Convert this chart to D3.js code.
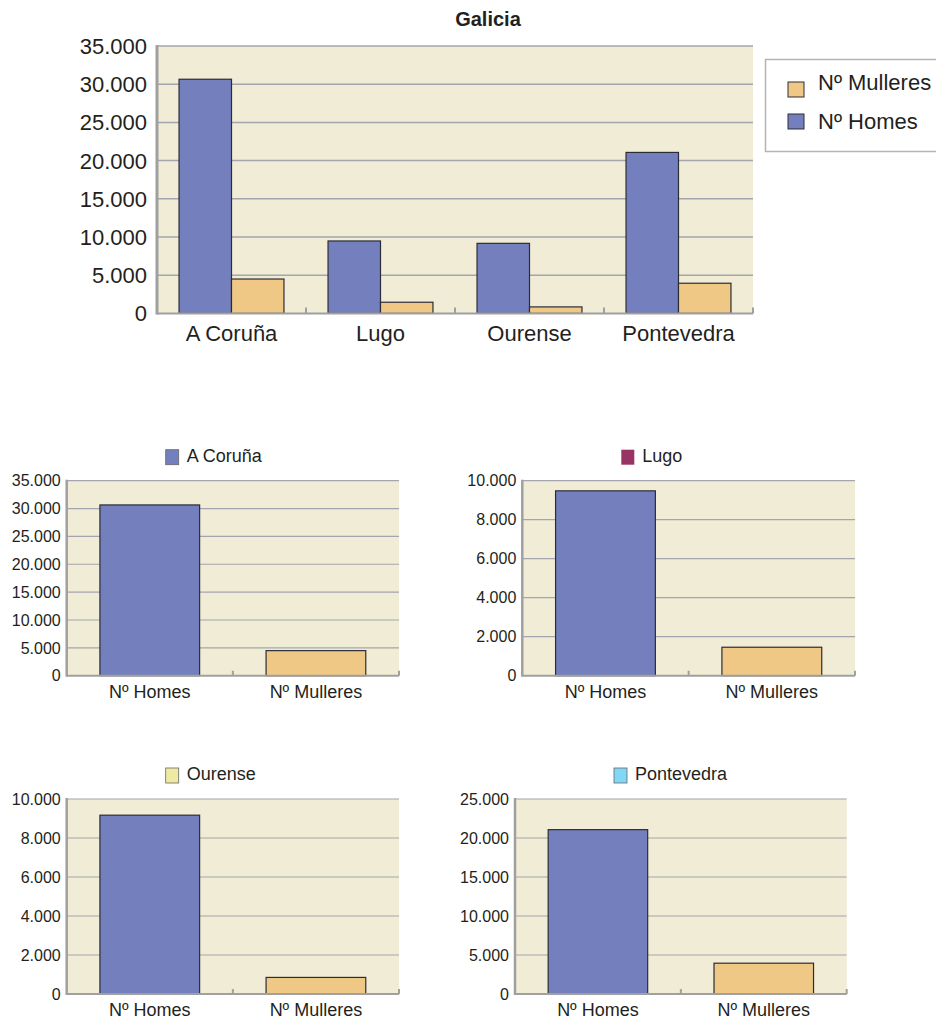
<!DOCTYPE html>
<html>
<head>
<meta charset="utf-8">
<script src="https://cdn.jsdelivr.net/npm/d3@7"></script>
<style>
  body { margin: 0; background: #fff; }
  text { font-family: "Liberation Sans", Arial, sans-serif; fill: #231f20; }
</style>
</head>
<body>
<div id="chart"></div>
<script>
// values
var provinces = ["A Coruña", "Lugo", "Ourense", "Pontevedra"];
var homes = [30650, 9480, 9170, 21070];
var mulleres = [4500, 1460, 850, 3950];
var series = ["Nº Homes", "Nº Mulleres"];
var legendOrder = ["Nº Mulleres", "Nº Homes"];
var seriesColor = {"Nº Homes": "#7480bd", "Nº Mulleres": "#efc886"};
var provinceColor = ["#7480bd", "#993366", "#eeeaa4", "#82d7f7"];
var smallMax = [35000, 10000, 10000, 25000];
var smallStep = [5000, 2000, 2000, 5000];

var bg = "#f1ecd5", grid = "#a4a5ae", axisCol = "#a0a0a0", barStroke = "#2c2c38";
var fmt = d3.formatLocale({decimal: ",", thousands: ".", grouping: [3], currency: ["", "€"]}).format(",");

var svg = d3.select("#chart").append("svg")
    .attr("width", 936)
    .attr("height", 1019);

function galicia_func () {
    var box = {left: 157, top: 46, right: 753, bottom: 313.4};
    var y = d3.scaleLinear().domain([0, 35000]).range([box.bottom, box.top]);
    var x = d3.scaleBand().domain(provinces).range([box.left, box.right]);
    var x1 = d3.scaleBand().domain(series).range([0, x.bandwidth()]).paddingInner(0).paddingOuter(0.42);
    var ticks = d3.range(0, 35001, 5000);

    var g = svg.append("g");
    g.append("rect")
        .attr("x", box.left).attr("y", box.top)
        .attr("width", box.right - box.left).attr("height", box.bottom - box.top)
        .attr("fill", bg);

    g.append("g").selectAll("line")
        .data(ticks.slice(1))
        .enter().append("line")
        .attr("x1", box.left).attr("x2", box.right)
        .attr("y1", function(d) { return y(d); }).attr("y2", function(d) { return y(d); })
        .attr("stroke", grid).attr("stroke-width", 1.5);

    g.append("g").selectAll("text")
        .data(ticks)
        .enter().append("text")
        .attr("x", box.left - 10)
        .attr("y", function(d) { return y(d); })
        .attr("dy", "0.36em")
        .attr("text-anchor", "end")
        .style("font-size", "22px")
        .text(function(d) { return fmt(d); });

    var rows = provinces.map(function(p, i) {
        return {province: p, values: [{key: "Nº Homes", value: homes[i]}, {key: "Nº Mulleres", value: mulleres[i]}]};
    });

    g.append("g").selectAll("g")
        .data(rows)
        .enter().append("g")
        .attr("transform", function(d) { return "translate(" + x(d.province) + ",0)"; })
      .selectAll("rect")
        .data(function(d) { return d.values; })
        .enter().append("rect")
        .attr("x", function(d) { return x1(d.key); })
        .attr("y", function(d) { return y(d.value); })
        .attr("width", x1.bandwidth())
        .attr("height", function(d) { return y(0) - y(d.value); })
        .attr("fill", function(d) { return seriesColor[d.key]; })
        .attr("stroke", barStroke).attr("stroke-width", 1.2);

    // axis lines
    g.append("line").attr("x1", box.left).attr("x2", box.left)
        .attr("y1", box.top - 1).attr("y2", box.bottom + 1)
        .attr("stroke", axisCol).attr("stroke-width", 3);
    g.append("line").attr("x1", box.left).attr("x2", box.right)
        .attr("y1", box.bottom).attr("y2", box.bottom)
        .attr("stroke", axisCol).attr("stroke-width", 2);
    g.append("g").selectAll("line")
        .data(provinces.slice(1).concat([null]))
        .enter().append("line")
        .attr("x1", function(d) { return d ? x(d) : box.right; })
        .attr("x2", function(d) { return d ? x(d) : box.right; })
        .attr("y1", box.bottom).attr("y2", box.bottom - 6)
        .attr("stroke", axisCol).attr("stroke-width", 2);

    g.append("g").selectAll("text")
        .data(provinces)
        .enter().append("text")
        .attr("x", function(d) { return x(d) + x.bandwidth() / 2; })
        .attr("y", box.bottom + 28)
        .attr("text-anchor", "middle")
        .style("font-size", "22px")
        .text(function(d) { return d; });

    svg.append("text")
        .attr("x", 488).attr("y", 26)
        .attr("text-anchor", "middle")
        .style("font-size", "20px").style("font-weight", "bold")
        .text("Galicia");

    // legend
    var lg = svg.append("g");
    lg.append("rect")
        .attr("x", 765.5).attr("y", 59.5)
        .attr("width", 190).attr("height", 92)
        .attr("fill", "#fff").attr("stroke", "#b4b4b4").attr("stroke-width", 1.5);
    var item = lg.selectAll("g.item")
        .data(legendOrder)
        .enter().append("g")
        .attr("class", "item")
        .attr("transform", function(d, i) { return "translate(788," + (82 + i * 32) + ")"; });
    item.append("rect")
        .attr("y", function(d, i) { return i ? 0 : 0; })
        .attr("width", 16).attr("height", 15)
        .attr("fill", function(d) { return seriesColor[d]; })
        .attr("stroke", barStroke).attr("stroke-width", 1);
    item.append("text")
        .attr("x", 30)
        .attr("y", function(d, i) { return i ? 15 : 8; })
        .style("font-size", "22px")
        .text(function(d) { return d; });
}

function small_func (idx, box) {
    var y = d3.scaleLinear().domain([0, smallMax[idx]]).range([box.bottom, box.top]);
    var x = d3.scaleBand().domain(series).range([box.left, box.right]).paddingInner(0.4).paddingOuter(0.2);
    var ticks = d3.range(0, smallMax[idx] + 1, smallStep[idx]);
    var vals = [homes[idx], mulleres[idx]];

    var g = svg.append("g");
    g.append("rect")
        .attr("x", box.left).attr("y", box.top)
        .attr("width", box.right - box.left).attr("height", box.bottom - box.top)
        .attr("fill", bg);

    g.append("g").selectAll("line")
        .data(ticks.slice(1))
        .enter().append("line")
        .attr("x1", box.left).attr("x2", box.right)
        .attr("y1", function(d) { return y(d); }).attr("y2", function(d) { return y(d); })
        .attr("stroke", grid).attr("stroke-width", 1.2);

    g.append("g").selectAll("text")
        .data(ticks)
        .enter().append("text")
        .attr("x", box.left - 6)
        .attr("y", function(d) { return y(d); })
        .attr("dy", "0.36em")
        .attr("text-anchor", "end")
        .style("font-size", "16px")
        .text(function(d) { return fmt(d); });

    g.append("g").selectAll("rect")
        .data(series)
        .enter().append("rect")
        .attr("x", function(d) { return x(d); })
        .attr("y", function(d, i) { return y(vals[i]); })
        .attr("width", x.bandwidth())
        .attr("height", function(d, i) { return y(0) - y(vals[i]); })
        .attr("fill", function(d) { return seriesColor[d]; })
        .attr("stroke", barStroke).attr("stroke-width", 1.2);

    g.append("line").attr("x1", box.left).attr("x2", box.left)
        .attr("y1", box.top - 1).attr("y2", box.bottom + 1)
        .attr("stroke", axisCol).attr("stroke-width", 2.5);
    g.append("line").attr("x1", box.left).attr("x2", box.right)
        .attr("y1", box.bottom).attr("y2", box.bottom)
        .attr("stroke", axisCol).attr("stroke-width", 2);
    g.append("g").selectAll("line")
        .data([(box.left + box.right) / 2, box.right])
        .enter().append("line")
        .attr("x1", function(d) { return d; }).attr("x2", function(d) { return d; })
        .attr("y1", box.bottom).attr("y2", box.bottom - 5)
        .attr("stroke", axisCol).attr("stroke-width", 2);

    g.append("g").selectAll("text")
        .data(series)
        .enter().append("text")
        .attr("x", function(d) { return x(d) + x.bandwidth() / 2; })
        .attr("y", box.bottom + 22)
        .attr("text-anchor", "middle")
        .style("font-size", "18px")
        .text(function(d) { return d; });

    // one-entry legend over the plot
    g.append("rect")
        .attr("x", box.left + 99).attr("y", box.top - 31)
        .attr("width", 13).attr("height", 15)
        .attr("fill", provinceColor[idx])
        .attr("stroke", idx == 1 ? "none" : "#666").attr("stroke-width", 0.8);
    g.append("text")
        .attr("x", box.left + 120).attr("y", box.top - 19)
        .style("font-size", "18px")
        .text(provinces[idx]);
}

galicia_func ();
small_func(0, {left: 66.7, top: 480.7, right: 399, bottom: 675.7});
small_func(1, {left: 522.3, top: 480.7, right: 855, bottom: 675.7});
small_func(2, {left: 66.7, top: 799, right: 399, bottom: 994});
small_func(3, {left: 515, top: 799, right: 846.7, bottom: 994});
</script>
</body>
</html>
